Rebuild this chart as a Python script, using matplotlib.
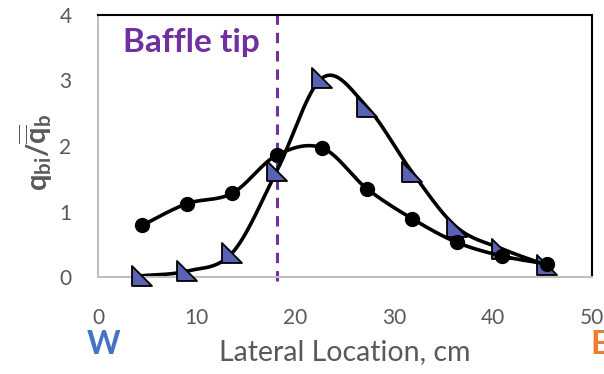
import numpy as np
import matplotlib
matplotlib.use("Agg")
import matplotlib.pyplot as plt
from matplotlib.path import Path

# Data
x_loc = [4.5, 9.0, 13.6, 18.1, 22.7, 27.2, 31.8, 36.3, 40.9, 45.4]
q_circle = [0.79, 1.12, 1.28, 1.86, 1.97, 1.35, 0.89, 0.53, 0.32, 0.20]
q_triangle = [0.02, 0.09, 0.37, 1.62, 3.04, 2.60, 1.60, 0.76, 0.43, 0.18]
baffle_x = 18.1
x_ticks = [0, 10, 20, 30, 40, 50]
y_ticks = [0, 1, 2, 3, 4]

GRAY = '#595959'
PURPLE = '#7030A0'

plt.rcParams['font.family'] = ['Lato', 'DejaVu Sans']
plt.rcParams['mathtext.fontset'] = 'custom'
plt.rcParams['mathtext.rm'] = 'Lato:bold'
plt.rcParams['mathtext.it'] = 'Lato:bold'
plt.rcParams['mathtext.bf'] = 'Lato:bold'


def smooth(x, y, n=30):
    # Catmull-Rom style smoothing, similar to Excel's smoothed line
    x = np.asarray(x, float)
    y = np.asarray(y, float)
    px = np.concatenate([[x[0]], x, [x[-1]]])
    py = np.concatenate([[y[0]], y, [y[-1]]])
    xs, ys = [], []
    t = np.linspace(0, 1, n)
    for i in range(1, len(px) - 2):
        p0 = np.array([px[i], py[i]])
        p3 = np.array([px[i + 1], py[i + 1]])
        c1 = p0 + (np.array([px[i + 1], py[i + 1]]) - np.array([px[i - 1], py[i - 1]])) / 6
        c2 = p3 - (np.array([px[i + 2], py[i + 2]]) - np.array([px[i], py[i]])) / 6
        b = ((1 - t) ** 3)[:, None] * p0 + (3 * (1 - t) ** 2 * t)[:, None] * c1 \
            + (3 * (1 - t) * t ** 2)[:, None] * c2 + (t ** 3)[:, None] * p3
        xs.extend(b[:, 0])
        ys.extend(b[:, 1])
    return np.array(xs), np.array(ys)


tri = Path([(-1, 1), (-1, -1), (1, -1), (-1, 1)],
           [Path.MOVETO, Path.LINETO, Path.LINETO, Path.CLOSEPOLY])

fig = plt.figure(figsize=(6.04, 3.74), dpi=100)
ax = fig.add_axes([98 / 604, 97 / 374, 494 / 604, 262 / 374])

ax.axvline(baffle_x, ymin=-0.015, color=PURPLE, lw=2.2,
           linestyle=(0, (3.4, 2.6)), zorder=1, clip_on=False)

sx, sy = smooth(x_loc, q_triangle)
ax.plot(sx, sy, color='black', lw=2.6, zorder=2, clip_on=False)
ax.plot(x_loc, q_triangle, linestyle='none', marker=tri, ms=14.5,
        mfc='#5A62B4', mec='black', mew=1.3, zorder=3, clip_on=False)

sx, sy = smooth(x_loc, q_circle)
ax.plot(sx, sy, color='black', lw=2.6, zorder=4, clip_on=False)
ax.plot(x_loc, q_circle, linestyle='none', marker='o', ms=10,
        mfc='black', mec='black', zorder=5, clip_on=False)

ax.set_xlim(0, 50)
ax.set_ylim(0, 4)
ax.set_xticks(x_ticks)
ax.set_yticks(y_ticks)
ax.tick_params(length=0, labelsize=15, colors=GRAY)
ax.tick_params(axis='y', pad=19)
ax.tick_params(axis='x', pad=22)

for s in ['left', 'bottom']:
    ax.spines[s].set_color('#BFBFBF')
    ax.spines[s].set_linewidth(1.5)
for s in ['top', 'right']:
    ax.spines[s].set_color('black')
    ax.spines[s].set_linewidth(1.5)

ax.text(0.05, 0.895, 'Baffle tip', transform=ax.transAxes, color=PURPLE,
        fontsize=24, fontweight='bold', va='center', ha='left')

fig.text(36 / 604, 1 - 152 / 374, r'$q_{bi}/\overline{\overline{q}}_{b}$',
         rotation=90, color=GRAY, fontsize=21, ha='center', va='center')
fig.text(345 / 604, 1 - 352 / 374, 'Lateral Location, cm', color=GRAY,
         fontsize=20.5, ha='center', va='center')
fig.text(104 / 604, 1 - 345 / 374, 'W', color='#4472C4', fontsize=23,
         fontweight='bold', ha='center', va='center')
fig.text(590 / 604, 1 - 345 / 374, 'E', color='#ED7D31', fontsize=23,
         fontweight='bold', ha='left', va='center')

fig.savefig('out.png', dpi=100)
